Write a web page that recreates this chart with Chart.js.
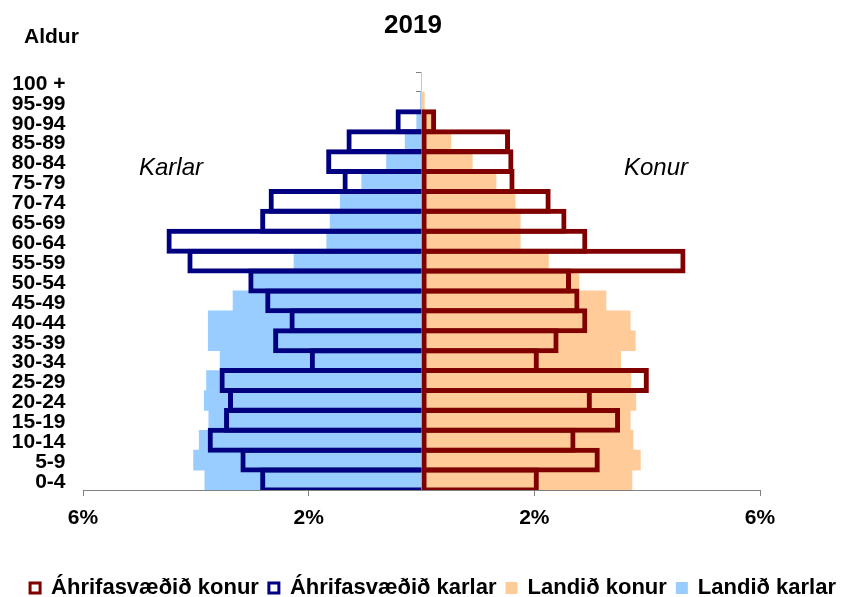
<!DOCTYPE html>
<html>
<head>
<meta charset="utf-8">
<script src="https://cdn.jsdelivr.net/npm/chart.js@4.4.1/dist/chart.umd.min.js"></script>
<style>
    body { margin: 0; background: #fff; }
    canvas { display: block; }
</style>
</head>
<body>
<canvas id="pyramid_chart" width="846" height="597"></canvas>
<script>
"use strict"

// Age groups, youngest first (drawn bottom to top)
var ageGroups = ["0-4", "5-9", "10-14", "15-19", "20-24", "25-29", "30-34", "35-39", "40-44", "45-49",
    "50-54", "55-59", "60-64", "65-69", "70-74", "75-79", "80-84", "85-89", "90-94", "95-99", "100 +"];

// Shares of population, %
var areaWomen = [2.08, 3.16, 2.73, 3.52, 3.02, 4.03, 2.08, 2.43, 2.94, 2.80,
    2.65, 4.68, 2.94, 2.57, 2.29, 1.65, 1.63, 1.57, 0.26, null, null];
var areaMen = [2.86, 3.21, 3.79, 3.50, 3.43, 3.58, 1.98, 2.63, 2.34, 2.77,
    3.07, 4.15, 4.52, 2.86, 2.71, 1.40, 1.69, 1.33, 0.46, null, null];
var countryWomen = [3.73, 3.88, 3.75, 3.70, 3.80, 3.71, 3.53, 3.79, 3.70, 3.27,
    2.79, 2.25, 1.75, 1.75, 1.66, 1.32, 0.90, 0.52, 0.18, 0.05, 0];
var countryMen = [3.84, 4.04, 3.94, 3.77, 3.85, 3.81, 3.57, 3.78, 3.78, 3.34,
    3.02, 2.26, 1.68, 1.62, 1.44, 1.06, 0.62, 0.29, 0.085, 0.02, 0];

var seriesNames = ["Áhrifasvæðið konur", "Áhrifasvæðið karlar", "Landið konur", "Landið karlar"];
var xTicks = [-6, -2, 2, 6];
var chartTitle = "2019";

var FONT = "'Liberation Sans', Arial, sans-serif";
var AXIS_GREY = "#808080";

Chart.defaults.font.family = FONT;
Chart.defaults.color = "#000";

function toLeft(v) {
    return v === null ? null : -v;
}

// extra texts: title, axis caption and side labels
var chartTexts = {
    id: 'chartTexts',
    afterDraw: function(chart){
        var ctx = chart.ctx;
        ctx.save();
        ctx.fillStyle = "#000";
        ctx.textBaseline = "alphabetic";
        ctx.textAlign = "center";
        ctx.font = "bold 26px " + FONT;
        ctx.fillText(chartTitle, 413, 33);
        ctx.textAlign = "left";
        ctx.font = "bold 21px " + FONT;
        ctx.fillText("Aldur", 24, 43);
        ctx.font = "italic 24px " + FONT;
        ctx.fillText("Karlar", 139, 175);
        ctx.fillText("Konur", 624, 175);
        ctx.restore();
    }
};

var outlineBar = {
    backgroundColor: "rgba(255,255,255,0)",
    borderWidth: 5,
    barPercentage: 1.25,
    categoryPercentage: 1,
    grouped: false
};
var filledBar = {
    borderWidth: 0,
    barPercentage: 1,
    categoryPercentage: 1,
    grouped: false
};

var pyramidChart = new Chart(document.getElementById("pyramid_chart"), {
    type: 'bar',
    data: {
        labels: ageGroups,
        datasets: [
            Object.assign({}, outlineBar, {
                label: seriesNames[0],
                data: areaWomen,
                borderColor: "#800000",
                borderSkipped: false
            }),
            Object.assign({}, outlineBar, {
                label: seriesNames[1],
                data: areaMen.map(toLeft),
                borderColor: "#000080",
                borderSkipped: 'start'
            }),
            Object.assign({}, filledBar, {
                label: seriesNames[2],
                data: countryWomen,
                backgroundColor: "#FFCC99"
            }),
            Object.assign({}, filledBar, {
                label: seriesNames[3],
                data: countryMen.map(toLeft),
                backgroundColor: "#99CCFF"
            })
        ]
    },
    options: {
        indexAxis: 'y',
        responsive: false,
        animation: false,
        layout: {
            padding: { top: 72, left: 0, right: 0, bottom: -12 }
        },
        plugins: {
            title: { display: false },
            tooltip: { enabled: false },
            legend: {
                position: 'bottom',
                align: 'end',
                labels: {
                    boxWidth: 10,
                    boxHeight: 10,
                    padding: 10,
                    font: { size: 22, weight: 'bold' },
                    generateLabels: function(chart){
                        var items = Chart.defaults.plugins.legend.labels.generateLabels(chart);
                        items.forEach(function(item, i){
                            if (i < 2) {
                                item.lineWidth = 3;
                            } else {
                                item.strokeStyle = item.fillStyle;
                                item.lineWidth = 2;
                            }
                        });
                        return items;
                    }
                }
            }
        },
        scales: {
            x: {
                type: 'linear',
                min: -6,
                max: 6,
                afterBuildTicks: function(scale){
                    scale.ticks = xTicks.map(function(v){ return { value: v }; });
                },
                afterFit: function(scale){
                    scale.height = 77;
                },
                grid: { drawOnChartArea: false, tickLength: 6, color: AXIS_GREY },
                border: { color: AXIS_GREY },
                ticks: {
                    padding: 10,
                    font: { size: 21, weight: 'bold' },
                    callback: function(value){
                        return Math.abs(value) + "%";
                    }
                }
            },
            y: {
                type: 'category',
                position: 'left',
                reverse: true,
                afterFit: function(scale){
                    scale.width = 83;
                },
                grid: { display: false, drawTicks: false },
                border: { display: false },
                ticks: {
                    padding: 17.5,
                    labelOffset: 2,
                    autoSkip: false,
                    font: { size: 21, weight: 'bold' }
                }
            },
            yc: {
                type: 'category',
                axis: 'y',
                position: { x: 0 },
                reverse: true,
                offset: true,
                grid: { offset: true, drawOnChartArea: false, tickLength: 5, color: AXIS_GREY },
                border: { color: AXIS_GREY },
                ticks: { display: false }
            },
            yr: {
                type: 'category',
                axis: 'y',
                position: 'right',
                afterFit: function(scale){
                    scale.width = 86;
                },
                grid: { display: false, drawTicks: false },
                border: { display: false },
                ticks: { display: false }
            }
        }
    },
    plugins: [chartTexts]
});
</script>
</body>
</html>
